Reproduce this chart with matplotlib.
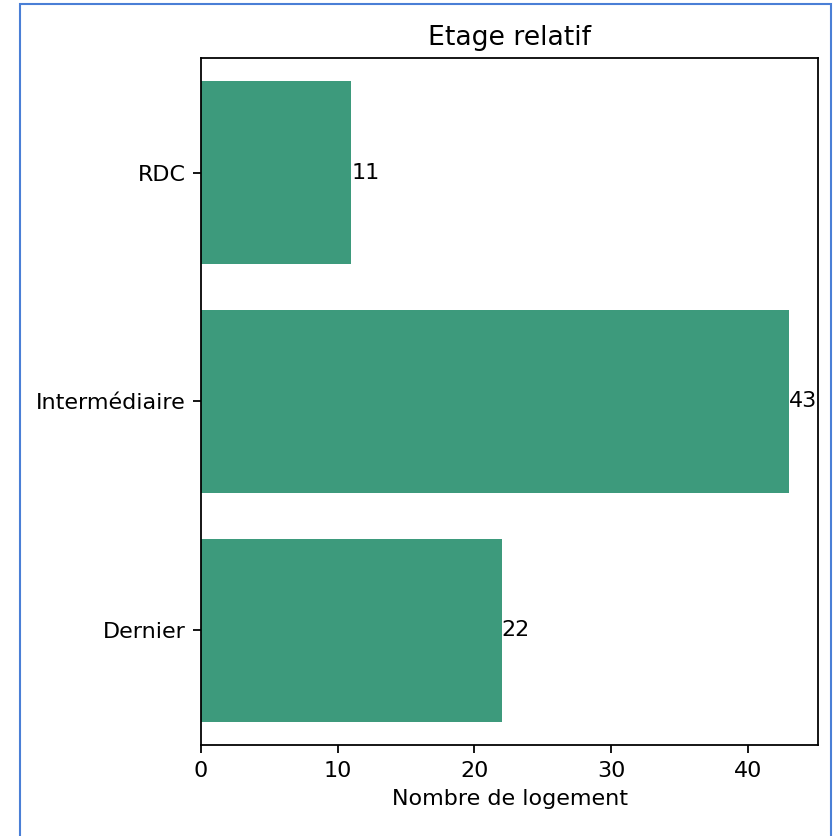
import matplotlib
matplotlib.use('Agg')
import matplotlib.pyplot as plt
from matplotlib.patches import Rectangle

# Data
categories = ['Dernier', 'Intermédiaire', 'RDC']
counts = [22, 43, 11]

# the reference looks like a default chart scaled up about 1.6x
s = 1.6

fig = plt.figure(figsize=(8.33, 8.36), dpi=100)
ax = fig.add_axes([0.2413, 0.1089, 0.7407, 0.8217])

bars = ax.barh(categories, counts, color='#3d9a7c')
ax.bar_label(bars, fontsize=10 * s)

ax.set_ylim(-0.5, 2.5)
ax.set_title('Etage relatif', fontsize=12 * s, pad=6 * s)
ax.set_xlabel('Nombre de logement', fontsize=10 * s, labelpad=4 * s)
ax.tick_params(labelsize=10 * s, length=3.5 * s, width=0.8 * s, pad=3.5 * s)
for sp in ax.spines.values():
    sp.set_linewidth(0.8 * s)

# screenshot frame
fig.add_artist(Rectangle((20 / 833, -0.1), (831 - 20) / 833, 1.1 - 4 / 836,
                         transform=fig.transFigure, fill=False,
                         edgecolor='#4a7fd6', linewidth=1.5))

fig.savefig('out.png', dpi=100)
